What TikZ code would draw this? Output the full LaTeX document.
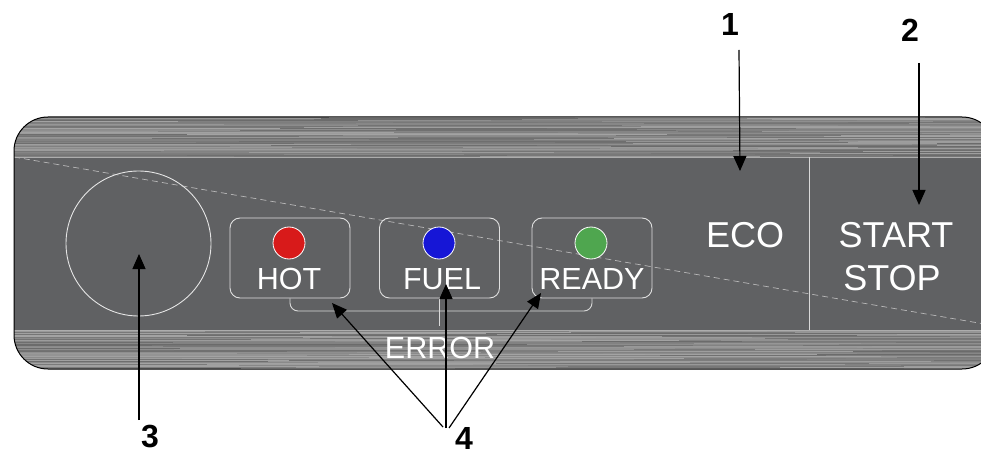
\documentclass[tikz,border=0pt]{standalone}
\usepackage{fontspec}
\setmainfont{Liberation Sans}
\usetikzlibrary{arrows.meta}
\definecolor{panelgray}{HTML}{606163}
\definecolor{ledred}{HTML}{D81A1A}
\definecolor{ledblue}{HTML}{1616D6}
\definecolor{ledgreen}{HTML}{4FA64F}
\newcommand{\brushrow}[1]{%
    \pgfmathsetmacro\ga{int(random(42,64))}%
    \pgfmathsetmacro\gb{int(random(42,64))}%
    \pgfmathsetmacro\gc{int(random(42,64))}%
    \pgfmathsetmacro\gd{int(random(42,64))}%
    \pgfmathsetmacro\xa{random(150,400)}%
    \pgfmathsetmacro\xb{random(450,700)}%
    \pgfmathsetmacro\xc{random(720,950)}%
    \draw[white!\ga!black,line width=1.05pt] (14,#1+0.5) -- (\xa,#1+0.5);
    \draw[white!\gb!black,line width=1.05pt] (\xa,#1+0.5) -- (\xb,#1+0.5);
    \draw[white!\gc!black,line width=1.05pt] (\xb,#1+0.5) -- (\xc,#1+0.5);
    \draw[white!\gd!black,line width=1.05pt] (\xc,#1+0.5) -- (996,#1+0.5);
}
\begin{document}
\begin{tikzpicture}[x=1pt,y=-1pt,
  lbl/.style={text=white,inner sep=0pt,font=\fontsize{30.5}{36}\selectfont},
  biglbl/.style={text=white,inner sep=0pt,font=\fontsize{36}{42}\selectfont},
  digit/.style={text=black,inner sep=0pt,font=\bfseries\fontsize{32}{38}\selectfont},
  ledbox/.style={draw=white!88!black,line width=0.9pt,rounded corners=10pt,minimum width=120pt,minimum height=80pt,inner sep=0pt},
  led/.style={circle,draw=white,line width=0.8pt,minimum size=32pt,inner sep=0pt},
  ptr/.style={draw=black,line width=1.2pt,-{Triangle[length=15pt,width=13pt]}},
  thinwhite/.style={draw=white!85!black,line width=0.9pt}]
\useasboundingbox (0,0) rectangle (981,454);
% panel body with brushed bands
\begin{scope}
  \clip[rounded corners=34pt] (14,117) rectangle (996,369);
  \fill[white!50!black] (14,117) rectangle (996,369);
  \pgfmathsetseed{11}
  \foreach \yy in {117,...,156} {\brushrow{\yy}}
  \foreach \yy in {330,...,369} {\brushrow{\yy}}
  \fill[panelgray] (14,157) rectangle (996,330);
  \draw[white!68!black,line width=0.8pt] (14,157) -- (996,157);
  \draw[white!68!black,line width=0.8pt] (14,330) -- (996,330);
  % diagonal dashed line
  \draw[white!72!black,line width=0.7pt,dash pattern=on 6pt off 4pt] (14,157) -- (996,326);
\end{scope}
\draw[black,line width=1pt,rounded corners=34pt] (14,117) rectangle (996,369);
% divider
\draw[thinwhite] (809,157) -- (809,330);
% big circle
\node[circle,draw=white!90!black,line width=0.9pt,minimum size=145pt,inner sep=0pt] (knob) at (138.5,243.5) {};
% LED boxes
\node[ledbox] (hotbox) at (290,258) {};
\node[ledbox] (fuelbox) at (439.5,258) {};
\node[ledbox] (readybox) at (592,258) {};
\node[led,fill=ledred] (hotled) at (289,243) {};
\node[led,fill=ledblue] (fuelled) at (439,243) {};
\node[led,fill=ledgreen] (readyled) at (591,243) {};
\node[lbl] (hot) at (289,279) {HOT};
\node[lbl] (fuel) at (442,279) {FUEL};
\node[lbl] (ready) at (592,279) {READY};
% ERROR bracket
\draw[thinwhite,rounded corners=8pt] (hotbox.south) -- (290,311) -- (592,311) -- (readybox.south);
\draw[thinwhite] (fuelbox.south) -- ++(0,28);
\node[lbl] (error) at (440,347.5) {ERROR};
% ECO / START STOP
\node[biglbl] (eco) at (745,235) {ECO};
\node[biglbl] (start) at (896,235) {START};
\node[biglbl] (stop) at (892,278) {STOP};
% callout digits
\node[digit] (n1) at (730,24) {1};
\node[digit] (n2) at (910,30) {2};
\node[digit] (n3) at (150,437) {3};
\node[digit] (n4) at (464,438) {4};
% arrow coordinates
\coordinate (s1) at (739,50);   \coordinate (t1) at (740,171);
\coordinate (s2) at (919,63);   \coordinate (t2) at (919,205);
\coordinate (s3) at (139,420);  \coordinate (t3) at (139,254);
\coordinate (s4a) at (443,427); \coordinate (t4a) at (332,303);
\coordinate (s4b) at (446,428); \coordinate (t4b) at (446,284);
\coordinate (s4c) at (449,428); \coordinate (t4c) at (541,293);
\draw[ptr] (s1) -- (t1);
\draw[ptr] (s2) -- (t2);
\draw[ptr] (s3) -- (t3);
\draw[ptr] (s4a) -- (t4a);
\draw[ptr] (s4b) -- (t4b);
\draw[ptr] (s4c) -- (t4c);
\end{tikzpicture}
\end{document}
